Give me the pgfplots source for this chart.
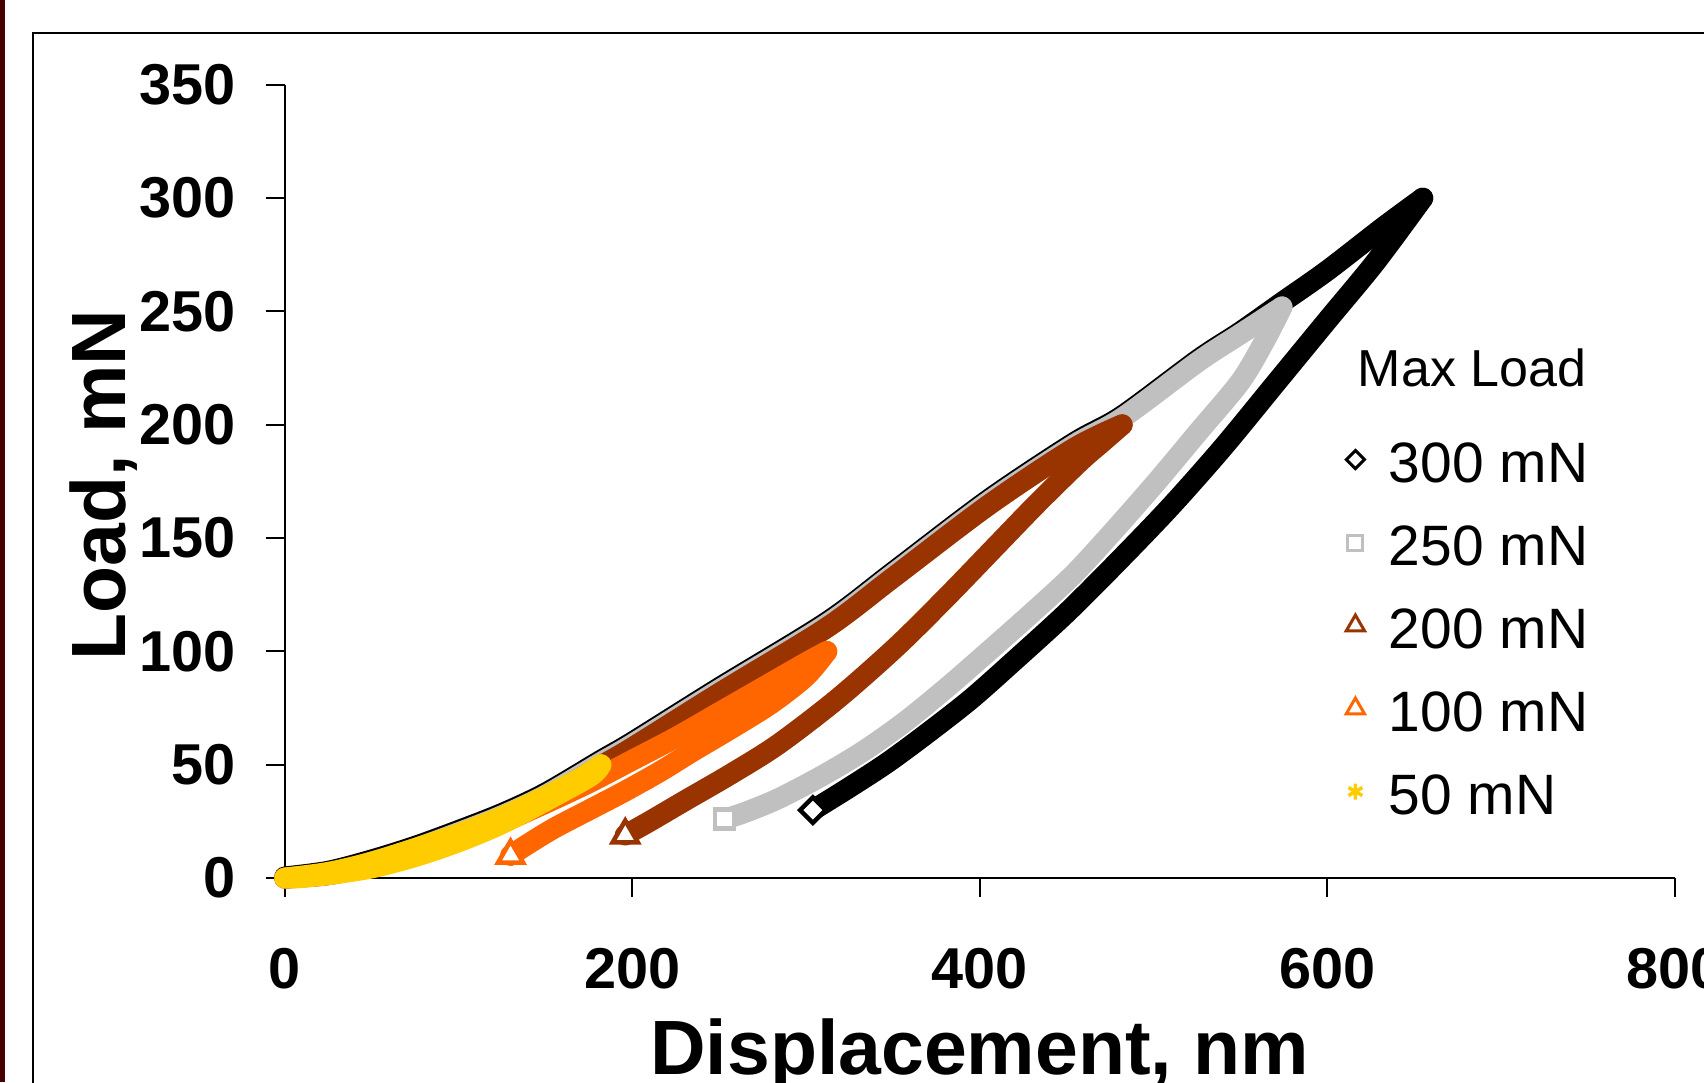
\documentclass[border=0pt]{standalone}
\usepackage{fontspec}
\setmainfont{Liberation Sans}
\usepackage{pgfplots}
\pgfplotsset{compat=1.18}

\definecolor{cgray}{HTML}{C0C0C0}
\definecolor{cbrown}{HTML}{993300}
\definecolor{corange}{HTML}{FF6600}
\definecolor{cyellow}{HTML}{FFCC00}
\definecolor{cmaroon}{HTML}{4A0000}

\pgfplotsset{
  band/.style={line width=0.21cm, line join=round, line cap=round, mark=none, smooth, tension=0.5, forget plot},
  endmark/.style={only marks, forget plot},
}

\begin{document}
\begin{tikzpicture}
\begin{scope}
\clip (0,0) rectangle (17.04,10.82);
\fill[cmaroon] (0,0) rectangle (0.05,10.82);
\draw[line width=0.025cm] (0.33,-1) -- (0.33,10.49) -- (18,10.49);
\begin{axis}[
  at={(2.847cm,2.039cm)}, anchor=south west,
  scale only axis, width=13.90cm, height=7.933cm,
  xmin=0, xmax=800, ymin=0, ymax=350,
  xtick={0,200,...,800}, ytick={0,50,...,350},
  axis x line*=bottom, axis y line*=left,
  axis line style={line width=0.02cm},
  tick style={line width=0.02cm, black},
  tick align=outside, major tick length=0.19cm,
  clip=false,
  /pgf/number format/assume math mode=true,
  tick label style={font=\fontsize{16.4}{20}\selectfont\bfseries},
  yticklabel style={anchor=east, inner sep=0pt, xshift=-0.29cm},
  xticklabel style={anchor=north, inner sep=0pt, yshift=-0.50cm},
  label style={font=\fontsize{21.9}{26}\selectfont\bfseries},
  xlabel={Displacement, nm},
  ylabel={Load, mN},
  xlabel style={at={(axis description cs:0.5,-0.2472)}, anchor=base, inner sep=0pt},
  ylabel style={at={(axis description cs:-0.1145,0.4956)}, anchor=base, inner sep=0pt},
  legend image code/.code={\draw[#1] plot coordinates {(0cm,0cm)};},
  legend cell align=left,
  legend style={at={(axis cs:611,194.6)}, anchor=north west, draw=none, fill=none,
    inner sep=0pt, outer sep=0pt, row sep=0.38cm, column sep=0.244cm,
    font=\fontsize{16.2}{19}\selectfont,
    nodes={inner sep=0pt, text height=0.45cm, text depth=0pt}},
]
% 300 mN: loading, unloading
\addplot[band, black] coordinates {
  (0,0.5) (25,3) (50,8) (75,14) (100,21) (125,28.5) (150,37.5) (182,52) (200,60)
  (250,84) (312,113) (350,135) (405,167) (454,192) (482,204) (526,229) (550,241)
  (574,254) (600,268) (632,287) (655,300)};
\addplot[band, black] coordinates {
  (655,300) (628,272) (600,246) (570,218) (540,190) (510,164) (480,140) (450,117)
  (420,96) (395,79) (370,64) (347,51) (325,40) (304,30)};
% 250 mN
\addplot[band, cgray] coordinates {
  (0,0) (25,2) (50,7) (75,13) (100,20) (125,27.5) (150,36.5) (182,51) (200,59)
  (250,83) (312,112) (350,134) (405,166) (454,191) (482,203) (526,228) (550,240)
  (574,252)};
\addplot[band, cgray] coordinates {
  (574,252) (564,237) (550,219) (526,197) (502,175) (478,154) (454,134) (430,117)
  (405,100) (381,84) (357,69) (333,56) (309,45) (284,35) (265,29) (253,26)};
% 200 mN
\addplot[band, cbrown] coordinates {
  (0,0) (25,1.5) (50,5.5) (75,11.5) (100,18.5) (125,26) (150,35) (182,49.5) (200,57.5)
  (250,81.5) (312,110.5) (350,132.5) (405,164.5) (454,189.5) (482,200)};
\addplot[band, cbrown] coordinates {
  (482,200) (470,192) (458,184) (434,166) (410,147) (381,124) (352,102) (318,79)
  (284,59) (257,46) (230,34) (210,25) (196,19)};
% 100 mN
\addplot[band, corange] coordinates {
  (0,0) (25,2) (50,6) (75,11) (100,17.5) (125,24.5) (150,33) (175,42) (200,52)
  (225,62) (250,73) (275,84) (300,95) (312,100)};
\addplot[band, corange] coordinates {
  (312,100) (300,89) (280,77) (257,66) (235,56) (216,47) (195,38) (175,30) (155,22)
  (140,15) (130,10)};
% 50 mN
\addplot[band, cyellow] coordinates {
  (0,0) (25,2.5) (50,7) (75,13) (100,19.5) (125,27) (150,36) (170,44) (182,50)};
\addplot[band, cyellow] coordinates {
  (182,50) (176,45) (150,34) (125,24) (100,16) (75,9.5) (50,4.5) (25,1.5) (5,0)};
% end markers
\addplot[endmark, mark=square*, mark size=0.09cm, mark options={rotate=45, draw=black, fill=white, line width=0.045cm}] coordinates {(304,30)};
\addplot[endmark, mark=square*, mark size=0.095cm, mark options={draw=cgray, fill=white, line width=0.045cm}] coordinates {(253,26)};
\addplot[endmark, mark=triangle*, mark size=0.145cm, mark options={draw=cbrown, fill=white, line width=0.045cm}] coordinates {(196,19)};
\addplot[endmark, mark=triangle*, mark size=0.145cm, mark options={draw=corange, fill=white, line width=0.045cm}] coordinates {(130,10)};
\addplot[endmark, mark=asterisk, mark size=0.1cm, mark options={draw=cyellow, line width=0.04cm}] coordinates {(3,0)};
% legend
\addlegendimage{mark=square, mark size=0.064cm, mark options={rotate=45, draw=black, line width=0.03cm}}
\addlegendentry{300 mN}
\addlegendimage{mark=square, mark size=0.075cm, mark options={draw=cgray, line width=0.03cm}}
\addlegendentry{250 mN}
\addlegendimage{mark=triangle, mark size=0.105cm, mark options={draw=cbrown, line width=0.03cm}}
\addlegendentry{200 mN}
\addlegendimage{mark=triangle, mark size=0.105cm, mark options={draw=corange, line width=0.03cm}}
\addlegendentry{100 mN}
\addlegendimage{mark=asterisk, mark size=0.08cm, mark options={draw=cyellow, line width=0.035cm}}
\addlegendentry{50 mN}
\node[anchor=base west, inner sep=0pt, font=\fontsize{14.8}{18}\selectfont] at (axis cs:617.2,216.7) {Max Load};
\end{axis}
\end{scope}
\pgfresetboundingbox
\path[use as bounding box] (0,0) rectangle (17.04,10.82);
\end{tikzpicture}
\end{document}
